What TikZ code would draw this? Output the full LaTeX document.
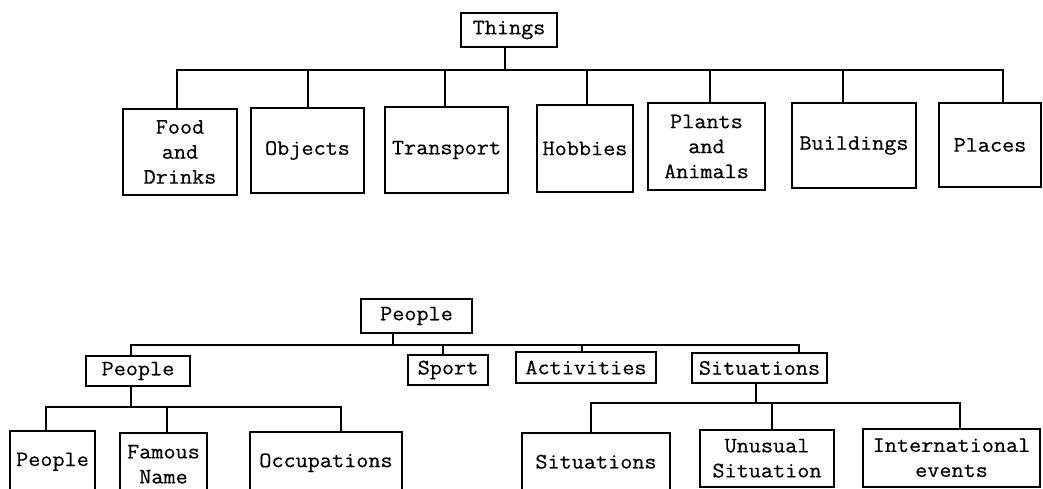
\documentclass[tikz,border=0pt]{standalone}
\usepackage{fontspec}
\setmonofont{Latin Modern Mono}[FakeStretch=1.07,FakeBold=0.5]
\usepackage{tikz}

\tikzset{
  catbox/.style={draw, line width=1.5pt, inner sep=1pt, align=center,
    font=\ttfamily\fontsize{22}{25}\selectfont},
  link/.style={line width=1.5pt}
}

\begin{document}
\begin{tikzpicture}[x=1pt,y=-1pt]
  \useasboundingbox (0,0) rectangle (1043,488);
  \clip (0,0) rectangle (1043,488);

  %upper tree: things
  \node[catbox,minimum width=96,minimum height=34] (things) at (509,30) {Things};
  \node[catbox,minimum width=114,minimum height=86] (food) at (180,152) {Food\\and\\Drinks};
  \node[catbox,minimum width=113,minimum height=85] (objects) at (307.5,150.5) {Objects};
  \node[catbox,minimum width=123,minimum height=86] (transport) at (446.5,150) {Transport};
  \node[catbox,minimum width=96,minimum height=87] (hobbies) at (585,148.5) {Hobbies};
  \node[catbox,minimum width=117,minimum height=87] (plants) at (706.5,146.5) {Plants\\and\\Animals};
  \node[catbox,minimum width=124,minimum height=85] (buildings) at (854,145.5) {Buildings};
  \node[catbox,minimum width=102,minimum height=84] (places) at (990,145) {Places};

  \coordinate (tbus) at (0,70);
  \draw[link] ([xshift=-4pt]things.south) -- ([xshift=-4pt]things.south |- tbus);
  \draw[link] ([xshift=-3pt]food.north) -- ([xshift=-3pt]food.north |- tbus)
     -- ([xshift=13pt]places.north |- tbus) -- ([xshift=13pt]places.north);
  \foreach \n/\s in {objects/0.5,transport/-1.5,hobbies/2,plants/3.5,buildings/-11}
    \draw[link] ([xshift=\s pt]\n.north) -- ([xshift=\s pt]\n.north |- tbus);

  %lower tree: people
  \node[catbox,minimum width=111,minimum height=34] (ptop) at (416.5,316) {People};
  \node[catbox,minimum width=104,minimum height=30] (pmid) at (138,371) {People};
  \node[catbox,minimum width=80,minimum height=30] (sport) at (448,370) {Sport};
  \node[catbox,minimum width=140,minimum height=31] (activities) at (586,367.5) {Activities};
  \node[catbox,minimum width=135,minimum height=30] (situ) at (759.5,368) {Situations};

  \coordinate (pbus) at (0,345);
  \draw[link] ([xshift=-23.5pt]ptop.south) -- ([xshift=-23.5pt]ptop.south |- pbus);
  \draw[link] ([xshift=-7pt]pmid.north) -- ([xshift=-7pt]pmid.north |- pbus)
     -- ([xshift=39.5pt]situ.north |- pbus) -- ([xshift=39.5pt]situ.north);
  \foreach \n/\s in {sport/-5,activities/-4}
    \draw[link] ([xshift=\s pt]\n.north) -- ([xshift=\s pt]\n.north |- pbus);

  %people below
  \node[catbox,anchor=north,minimum width=85,minimum height=62] (pbot) at (52.5,430) {People};
  \node[catbox,anchor=north,minimum width=87,minimum height=63] (famous) at (163.5,432) {Famous\\Name};
  \node[catbox,anchor=north,minimum width=152,minimum height=62] (occup) at (326,431) {Occupations};

  \coordinate (lbus) at (0,407);
  \draw[link] ([xshift=-7pt]pmid.south) -- ([xshift=-7pt]pmid.south |- lbus);
  \draw[link] ([xshift=-6.5pt]pbot.north) -- ([xshift=-6.5pt]pbot.north |- lbus)
     -- ([xshift=15pt]occup.north |- lbus) -- ([xshift=15pt]occup.north);
  \draw[link] ([xshift=3.5pt]famous.north) -- ([xshift=3.5pt]famous.north |- lbus);

  %situations below
  \node[catbox,anchor=north,minimum width=148,minimum height=58] (sitlow) at (596,432) {Situations};
  \node[catbox,anchor=north,minimum width=134,minimum height=57] (unusual) at (767,429) {Unusual\\Situation};
  \node[catbox,anchor=north,minimum width=177,minimum height=58] (intl) at (951.5,428) {International\\events};

  \coordinate (rbus) at (0,403);
  \draw[link] ([xshift=-3.5pt]situ.south) -- ([xshift=-3.5pt]situ.south |- rbus);
  \draw[link] ([xshift=-5pt]sitlow.north) -- ([xshift=-5pt]sitlow.north |- rbus)
     -- ([xshift=8.5pt]intl.north |- rbus) -- ([xshift=8.5pt]intl.north);
  \draw[link] ([xshift=5pt]unusual.north) -- ([xshift=5pt]unusual.north |- rbus);
\end{tikzpicture}
\end{document}
